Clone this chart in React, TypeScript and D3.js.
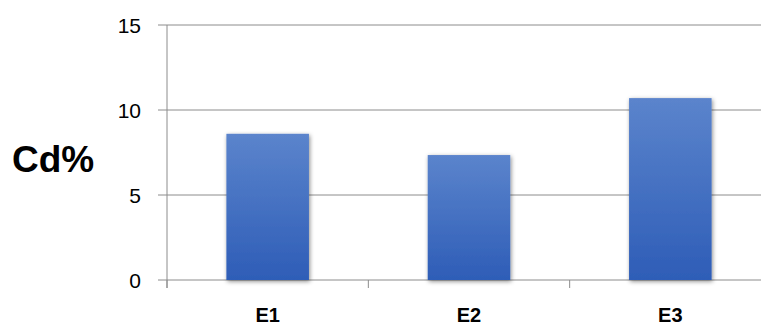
import React from "react";
import * as d3 from "d3";

const categories = ["E1", "E2", "E3"];
const cdValues = [8.6, 7.35, 10.7];
const yTicks = [0, 5, 10, 15];
const yLabel = "Cd%";

const W = 761;
const H = 325;
const plot = { left: 167, right: 771, top: 25, bottom: 280 };

export default function App() {
  const x = d3.scaleBand<string>().domain(categories).range([plot.left, plot.right]).padding(0);
  const y = d3.scaleLinear().domain([0, 15]).range([plot.bottom, plot.top]);
  const bw = x.bandwidth();
  const barW = bw * 0.41;
  const grid = "#8c8c8c";
  const boundaries = categories.map((c) => x(c)!).concat([plot.right]);

  return (
    <svg
      width={W}
      height={H}
      style={{ position: "absolute", left: 0, top: 0, background: "#fff" }}
      fontFamily="'Liberation Sans', Arial, sans-serif"
    >
      <defs>
        <linearGradient id="barFill" x1="0" y1="0" x2="0" y2="1">
          <stop offset="0%" stopColor="#5b84cc" />
          <stop offset="100%" stopColor="#2e5db7" />
        </linearGradient>
        <filter id="barShadow" x="-20%" y="-20%" width="140%" height="140%">
          <feDropShadow dx="1" dy="1.5" stdDeviation="2.2" floodColor="#000" floodOpacity="0.45" />
        </filter>
      </defs>

      {/* horizontal gridlines */}
      {yTicks.map((t) => (
        <line key={"g" + t} x1={plot.left - 9} x2={plot.right} y1={y(t)} y2={y(t)} stroke={grid} strokeWidth={1} />
      ))}

      {/* y axis line */}
      <line x1={plot.left} x2={plot.left} y1={plot.top} y2={plot.bottom + 8} stroke={grid} strokeWidth={1} />

      {/* category boundary ticks */}
      {boundaries.map((b, i) => (
        <line key={"t" + i} x1={b} x2={b} y1={plot.bottom} y2={plot.bottom + 8} stroke={grid} strokeWidth={1} />
      ))}

      {/* bars */}
      {categories.map((c, i) => {
        const cx = x(c)! + bw / 2;
        return (
          <rect
            key={c}
            x={cx - barW / 2}
            y={y(cdValues[i])}
            width={barW}
            height={y(0) - y(cdValues[i])}
            fill="url(#barFill)"
            filter="url(#barShadow)"
          />
        );
      })}

      {/* y tick labels */}
      {yTicks.map((t) => (
        <text key={"l" + t} x={141} y={y(t)} dy="0.36em" textAnchor="end" fontSize={21} fill="#000">
          {t}
        </text>
      ))}

      {/* category labels */}
      {categories.map((c) => (
        <text key={"c" + c} x={x(c)! + bw / 2} y={322} textAnchor="middle" fontSize={20} fontWeight="bold" fill="#000">
          {c}
        </text>
      ))}

      {/* y axis title */}
      <text x={12} y={172} fontSize={37} fontWeight="bold" fill="#000">
        {yLabel}
      </text>
    </svg>
  );
}
